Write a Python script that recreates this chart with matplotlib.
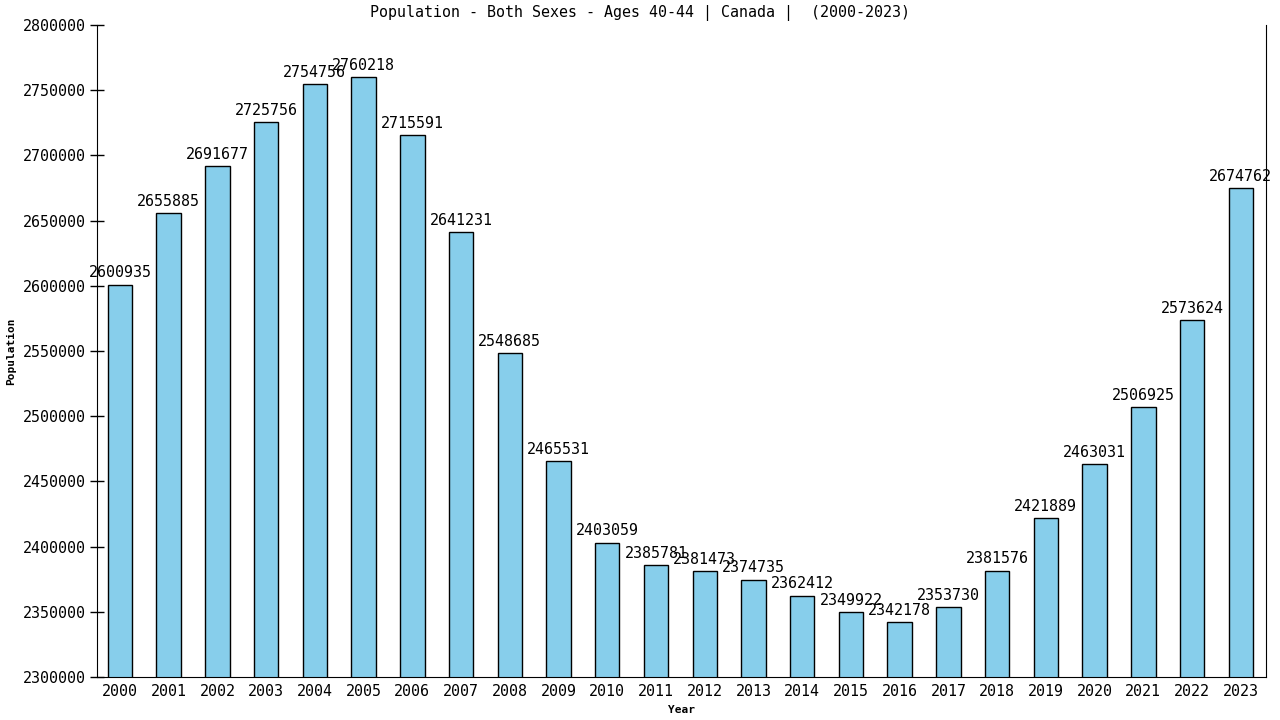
import matplotlib
matplotlib.use("Agg")
import matplotlib.pyplot as plt

years = list(range(2000, 2024))
population = [2600935, 2655885, 2691677, 2725756, 2754756, 2760218, 2715591,
              2641231, 2548685, 2465531, 2403059, 2385781, 2381473, 2374735,
              2362412, 2349922, 2342178, 2353730, 2381576, 2421889, 2463031,
              2506925, 2573624, 2674762]
y_ticks = list(range(2300000, 2800001, 50000))

plt.rcParams.update({"font.family": "DejaVu Sans Mono", "font.size": 10.8})

fig = plt.figure(figsize=(12.8, 7.2), dpi=100)
ax = fig.add_axes([0.0758, 0.0597, 0.913, 0.9056])

x = list(range(len(years)))
ax.bar(x, population, width=0.5, color="#87CEEB", edgecolor="black", linewidth=1)

# value labels on top of each bar
for xi, v in zip(x, population):
    ax.annotate(str(v), xy=(xi, v), xytext=(0, 3), textcoords="offset points",
                ha="center", va="bottom", fontsize=10.8)

ax.set_xlim(-0.47, 23.51)
ax.set_ylim(2300000, 2800000)
ax.set_yticks(y_ticks)
ax.set_yticklabels([str(t) for t in y_ticks])
ax.set_xticks(x)
ax.set_xticklabels([str(y) for y in years])

ax.spines["top"].set_visible(False)
ax.tick_params(axis="y", direction="inout", length=10, width=1, pad=3)
ax.tick_params(axis="x", length=0, pad=5)

ax.set_ylabel("Population", fontsize=8, fontweight="bold", labelpad=5)
ax.set_xlabel("Year", fontsize=8, fontweight="bold", labelpad=4)

fig.text(0.5, 0.982, "Population - Both Sexes - Ages 40-44 | Canada |  (2000-2023)",
         ha="center", va="center", fontsize=10.8)

fig.savefig("out.png", dpi=100)
